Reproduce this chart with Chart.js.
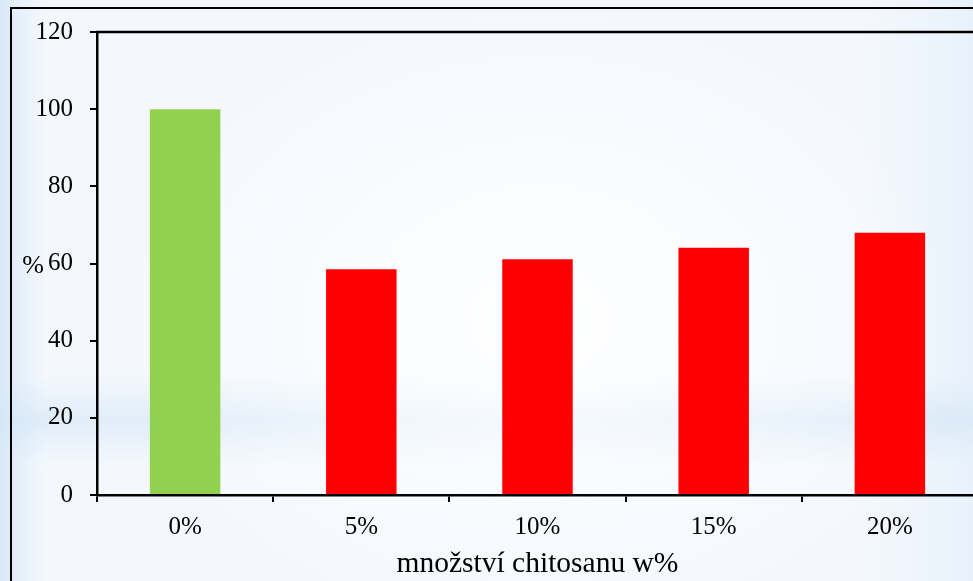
<!DOCTYPE html>
<html lang="cs">
<head>
<meta charset="utf-8">
<title>Množství chitosanu</title>
<script src="https://cdn.jsdelivr.net/npm/chart.js@4/dist/chart.umd.min.js"></script>
<style>
  html, body {
    margin: 0;
    padding: 0;
    width: 973px;
    height: 581px;
    overflow: hidden;
  }
  body {
    position: relative;
    background:
      radial-gradient(ellipse 420px 320px at 540px 320px, rgba(255,255,255,0.95), rgba(255,255,255,0)),
      linear-gradient(to bottom, rgba(208,228,245,0) 375px, rgba(208,228,245,0.55) 420px, rgba(208,228,245,0) 465px),
      linear-gradient(to right, rgba(210,229,246,0.75) 0px, rgba(210,229,246,0) 45px),
      linear-gradient(to left, rgba(218,234,248,0.45) 0px, rgba(218,234,248,0) 110px),
      #f4f8fd;
  }
  #frame {
    position: absolute;
    left: 10px;
    top: 7px;
    width: 1000px;
    height: 600px;
    border: 2.5px solid #000;
    box-sizing: border-box;
  }
  #chart {
    position: absolute;
    left: 0;
    top: 0;
  }
</style>
</head>
<body>
<div id="frame"></div>
<canvas id="chart" width="990" height="581"></canvas>
<script>
// Podíl (%) podle množství chitosanu
const categories = ['0%', '5%', '10%', '15%', '20%'];
const values = [100, 58.5, 61.1, 64.1, 68.0];
const barColors = ['#92d050', '#ff0000', '#ff0000', '#ff0000', '#ff0000'];
const yTicks = [0, 20, 40, 60, 80, 100, 120];

const SERIF = '"Liberation Serif", "Times New Roman", serif';

// top frame line of the plot and the horizontal "%" axis caption
const decorations = {
  id: 'decorations',
  afterDraw(chart) {
    const { ctx, chartArea, scales } = chart;
    ctx.save();
    ctx.strokeStyle = '#000';
    ctx.lineWidth = 2.5;
    ctx.beginPath();
    ctx.moveTo(chartArea.left - 1, chartArea.top);
    ctx.lineTo(chart.width, chartArea.top);
    ctx.stroke();

    ctx.fillStyle = '#000';
    ctx.font = '26px ' + SERIF;
    ctx.textAlign = 'center';
    ctx.textBaseline = 'middle';
    ctx.fillText('%', 33, scales.y.getPixelForValue(60) + 3);
    ctx.restore();
  }
};

new Chart(document.getElementById('chart'), {
  type: 'bar',
  data: {
    labels: categories,
    datasets: [{
      data: values,
      backgroundColor: barColors,
      borderWidth: 0,
      barPercentage: 0.4,
      categoryPercentage: 1.0
    }]
  },
  options: {
    responsive: false,
    animation: false,
    layout: { padding: { top: 32, right: 12, left: 0, bottom: 0 } },
    plugins: {
      legend: { display: false },
      tooltip: { enabled: false }
    },
    scales: {
      x: {
        offset: true,
        grid: {
          offset: true,
          drawOnChartArea: false,
          drawTicks: true,
          tickLength: 7,
          color: '#000',
          lineWidth: 2
        },
        border: { display: true, color: '#000', width: 2.5 },
        ticks: {
          color: '#000',
          padding: 10,
          font: { family: SERIF, size: 25 }
        },
        title: {
          display: true,
          text: 'množství chitosanu w%',
          color: '#000',
          padding: { top: 0, bottom: -1 },
          font: { family: SERIF, size: 29.5 }
        },
        afterFit(scale) { scale.height = 86; }
      },
      y: {
        min: 0,
        max: 120,
        afterBuildTicks(scale) {
          scale.ticks = yTicks.map(v => ({ value: v }));
        },
        grid: {
          drawOnChartArea: false,
          drawTicks: true,
          tickLength: 7,
          color: '#000',
          lineWidth: 2
        },
        border: { display: true, color: '#000', width: 2.5 },
        ticks: {
          color: '#000',
          padding: 17,
          font: { family: SERIF, size: 25 }
        },
        afterFit(scale) { scale.width = 97; }
      }
    }
  },
  plugins: [decorations]
});
</script>
</body>
</html>
